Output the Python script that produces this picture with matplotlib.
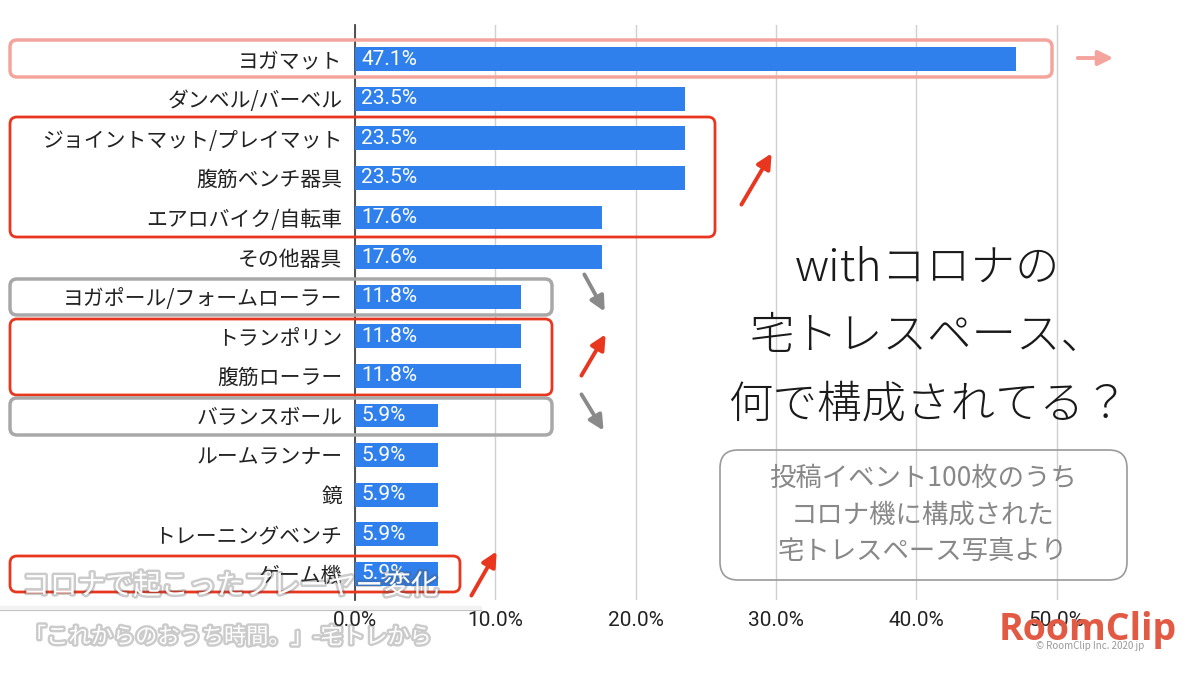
import matplotlib
matplotlib.use("Agg")
import matplotlib.pyplot as plt
import matplotlib.transforms as mtransforms
import matplotlib.patheffects as pe
from matplotlib.patches import FancyBboxPatch, FancyArrowPatch
from matplotlib.lines import Line2D

plt.rcParams['font.family'] = ['Noto Sans CJK JP', 'DejaVu Sans']

# データ（上から順）
categories = ["ヨガマット", "ダンベル/バーベル", "ジョイントマット/プレイマット", "腹筋ベンチ器具",
              "エアロバイク/自転車", "その他器具", "ヨガポール/フォームローラー", "トランポリン",
              "腹筋ローラー", "バランスボール", "ルームランナー", "鏡", "トレーニングベンチ", "ゲーム機"]
values = [47.1, 23.5, 23.5, 23.5, 17.6, 17.6, 11.8, 11.8, 11.8, 5.9, 5.9, 5.9, 5.9, 5.9]
xticks = [0, 10, 20, 30, 40, 50]

W, H = 1200, 675
fig = plt.figure(figsize=(12, 6.75), dpi=100)
fig.patch.set_facecolor("white")

# 画素座標（左上原点）
px = mtransforms.Affine2D().scale(1 / W, -1 / H).translate(0, 1) + fig.transFigure

ax = fig.add_axes([355 / W, 1 - 600 / H, (1100 - 355) / W, (600 - 25) / H])
ypos = list(range(len(categories)))
ax.barh(ypos, values, height=0.6, color="#2f80ed", zorder=3)
for y, v in zip(ypos, values):
    ax.text(0.45, y, f"{v}%", color="white", va="center", ha="left", fontsize=15,
            family=["Roboto", "DejaVu Sans"], zorder=4)
ax.set_xlim(0, (1100 - 355) / 14.03)
ax.set_ylim(len(categories) - 1 + 0.66, -0.86)
ax.set_yticks(ypos)
ax.set_yticklabels(categories, fontsize=15, color="#222222")
ax.set_xticks(xticks)
ax.set_xticklabels([f"{t:.1f}%" for t in xticks], fontsize=15, color="#222222",
                   family=["Roboto", "DejaVu Sans"])
ax.tick_params(axis="both", length=0)
ax.tick_params(axis="x", pad=8)
ax.tick_params(axis="y", pad=9)
for s in ["top", "right", "bottom"]:
    ax.spines[s].set_visible(False)
ax.spines["left"].set_color("#444444")
ax.spines["left"].set_linewidth(1.3)
ax.grid(axis="x", color="#d0d0d0", linewidth=1, zorder=0)
ax.set_axisbelow(True)


def box(x0, y0, x1, y1, color, lw=2):
    p = FancyBboxPatch((x0, y0), x1 - x0, y1 - y0,
                       boxstyle="round,pad=0,rounding_size=7",
                       transform=px, fill=False, edgecolor=color, linewidth=lw, zorder=10)
    fig.add_artist(p)


def arrow(x0, y0, x1, y1, color):
    a = FancyArrowPatch((x0, y0), (x1, y1), transform=px, arrowstyle="-|>",
                        mutation_scale=22, color=color, linewidth=2.8, zorder=10)
    fig.add_artist(a)


pink, red, gray = "#f4a49c", "#e8361f", "#a8a8a8"
box(10, 40, 1052, 77, pink, 2.5)
box(10, 117, 715, 237, red)
box(10, 279, 552, 315, gray, 2.5)
box(10, 319, 552, 395, red)
box(10, 398, 552, 435, gray, 2.5)
box(10, 556, 460, 592, red)

arrow(1075, 58, 1116, 58, pink)
arrow(740, 207, 773, 151, red)
arrow(583, 272, 606, 314, "#8a8a8a")
arrow(580, 378, 607, 332, red)
arrow(580, 392, 605, 433, "#8a8a8a")
arrow(470, 598, 498, 549, red)

# 右側のタイトル
for y, t in zip([268, 336, 405], ["withコロナの", "宅トレスペース、", "何で構成されてる？"]):
    fig.text(928, y, t, transform=px, ha="center", va="center", fontsize=32,
             fontweight="light", color="#1a1a1a")

# 注記ボックス
fig.add_artist(FancyBboxPatch((720, 450), 407, 130, boxstyle="round,pad=0,rounding_size=18",
                              transform=px, fill=False, edgecolor="#9a9a9a", linewidth=1.2))
for y, t in zip([478, 515, 551], ["投稿イベント100枚のうち", "コロナ機に構成された", "宅トレスペース写真より"]):
    fig.text(923, y, t, transform=px, ha="center", va="center", fontsize=19, color="#888888")

# 左下のキャプション
shadow = [pe.withStroke(linewidth=3.5, foreground="#555555", alpha=0.3)]
fig.text(22, 586, "コロナで起こったプレーヤー変化", transform=px, ha="left", va="center",
         fontsize=20, color="white", path_effects=shadow, zorder=20)
fig.add_artist(Line2D([0, 480], [608, 608], transform=px, color="#f2f2f2", linewidth=3,
                      path_effects=[pe.SimpleLineShadow(offset=(0, -1), alpha=0.25), pe.Normal()],
                      zorder=20))
fig.text(24, 637, "「これからのおうち時間。」-宅トレから", transform=px, ha="left", va="center",
         fontsize=16, color="white", path_effects=shadow, zorder=20)

# ロゴ
fig.text(1088, 630, "RoomClip", transform=px, ha="center", va="center", fontsize=27,
         fontweight="bold", color="#e25a43", family=["Open Sans", "DejaVu Sans"], zorder=20)
fig.text(1090, 646, "© RoomClip Inc. 2020 jp", transform=px, ha="center", va="center",
         fontsize=7, color="#999999", zorder=19)

fig.savefig("out.png", dpi=100)
